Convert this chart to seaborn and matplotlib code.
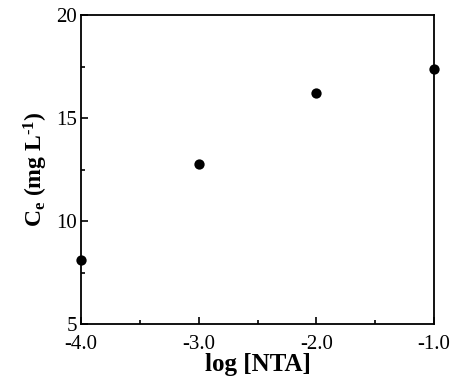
import matplotlib
matplotlib.use("Agg")
import matplotlib.pyplot as plt
import seaborn as sns
import pandas as pd
from matplotlib.ticker import MultipleLocator, FormatStrFormatter

log_nta = [-4.0, -3.0, -2.0, -1.0]
ce = [8.1, 12.77, 16.2, 17.4]

sns.set_style("white")
plt.rcParams['font.family'] = ['Liberation Serif', 'DejaVu Serif']
plt.rcParams['mathtext.fontset'] = 'custom'
plt.rcParams['mathtext.rm'] = 'Liberation Serif:bold'
plt.rcParams['mathtext.bf'] = 'Liberation Serif:bold'
plt.rcParams['mathtext.it'] = 'Liberation Serif:italic'
plt.rcParams['text.color'] = 'black'
plt.rcParams['axes.labelcolor'] = 'black'
plt.rcParams['xtick.color'] = 'black'
plt.rcParams['ytick.color'] = 'black'

df = pd.DataFrame({"x": log_nta, "y": ce})
fig = plt.figure(figsize=(4.54, 3.82), dpi=100)
ax = fig.add_axes([81/454, 1-324/382, (434-81)/454, (324-15)/382])
sns.scatterplot(data=df, x="x", y="y", ax=ax, color="black", s=55,
                edgecolor="black", linewidth=0, clip_on=False, zorder=5)
ax.set_xlim(-4.0, -1.0)
ax.set_ylim(5, 20)
ax.xaxis.set_major_locator(MultipleLocator(1.0))
ax.xaxis.set_minor_locator(MultipleLocator(0.5))
ax.yaxis.set_major_locator(MultipleLocator(5))
ax.yaxis.set_minor_locator(MultipleLocator(2.5))
ax.xaxis.set_major_formatter(FormatStrFormatter('%.1f'))
ax.tick_params(which='both', direction='in', bottom=True, left=True, top=False, right=False,
               colors='black', labelcolor='black', labelsize=15, width=1.2)
ax.tick_params(which='major', length=5)
ax.tick_params(which='minor', length=3)
ax.tick_params(axis='x', which='major', pad=8)
ax.tick_params(axis='y', which='major', pad=3)
for lbl in ax.get_yticklabels():
    pass
for s in ax.spines.values():
    s.set_color('black')
    s.set_linewidth(1.3)
ax.set_xlabel("log [NTA]", fontsize=18, fontweight='bold', labelpad=-1, color='black')
ax.set_ylabel(r"C$_{\mathrm{e}}$ (mg L$^{\text{-}\mathrm{1}}$)", fontsize=17, fontweight='bold',
              labelpad=4, color='black')
fig.savefig("out.png", dpi=100)
